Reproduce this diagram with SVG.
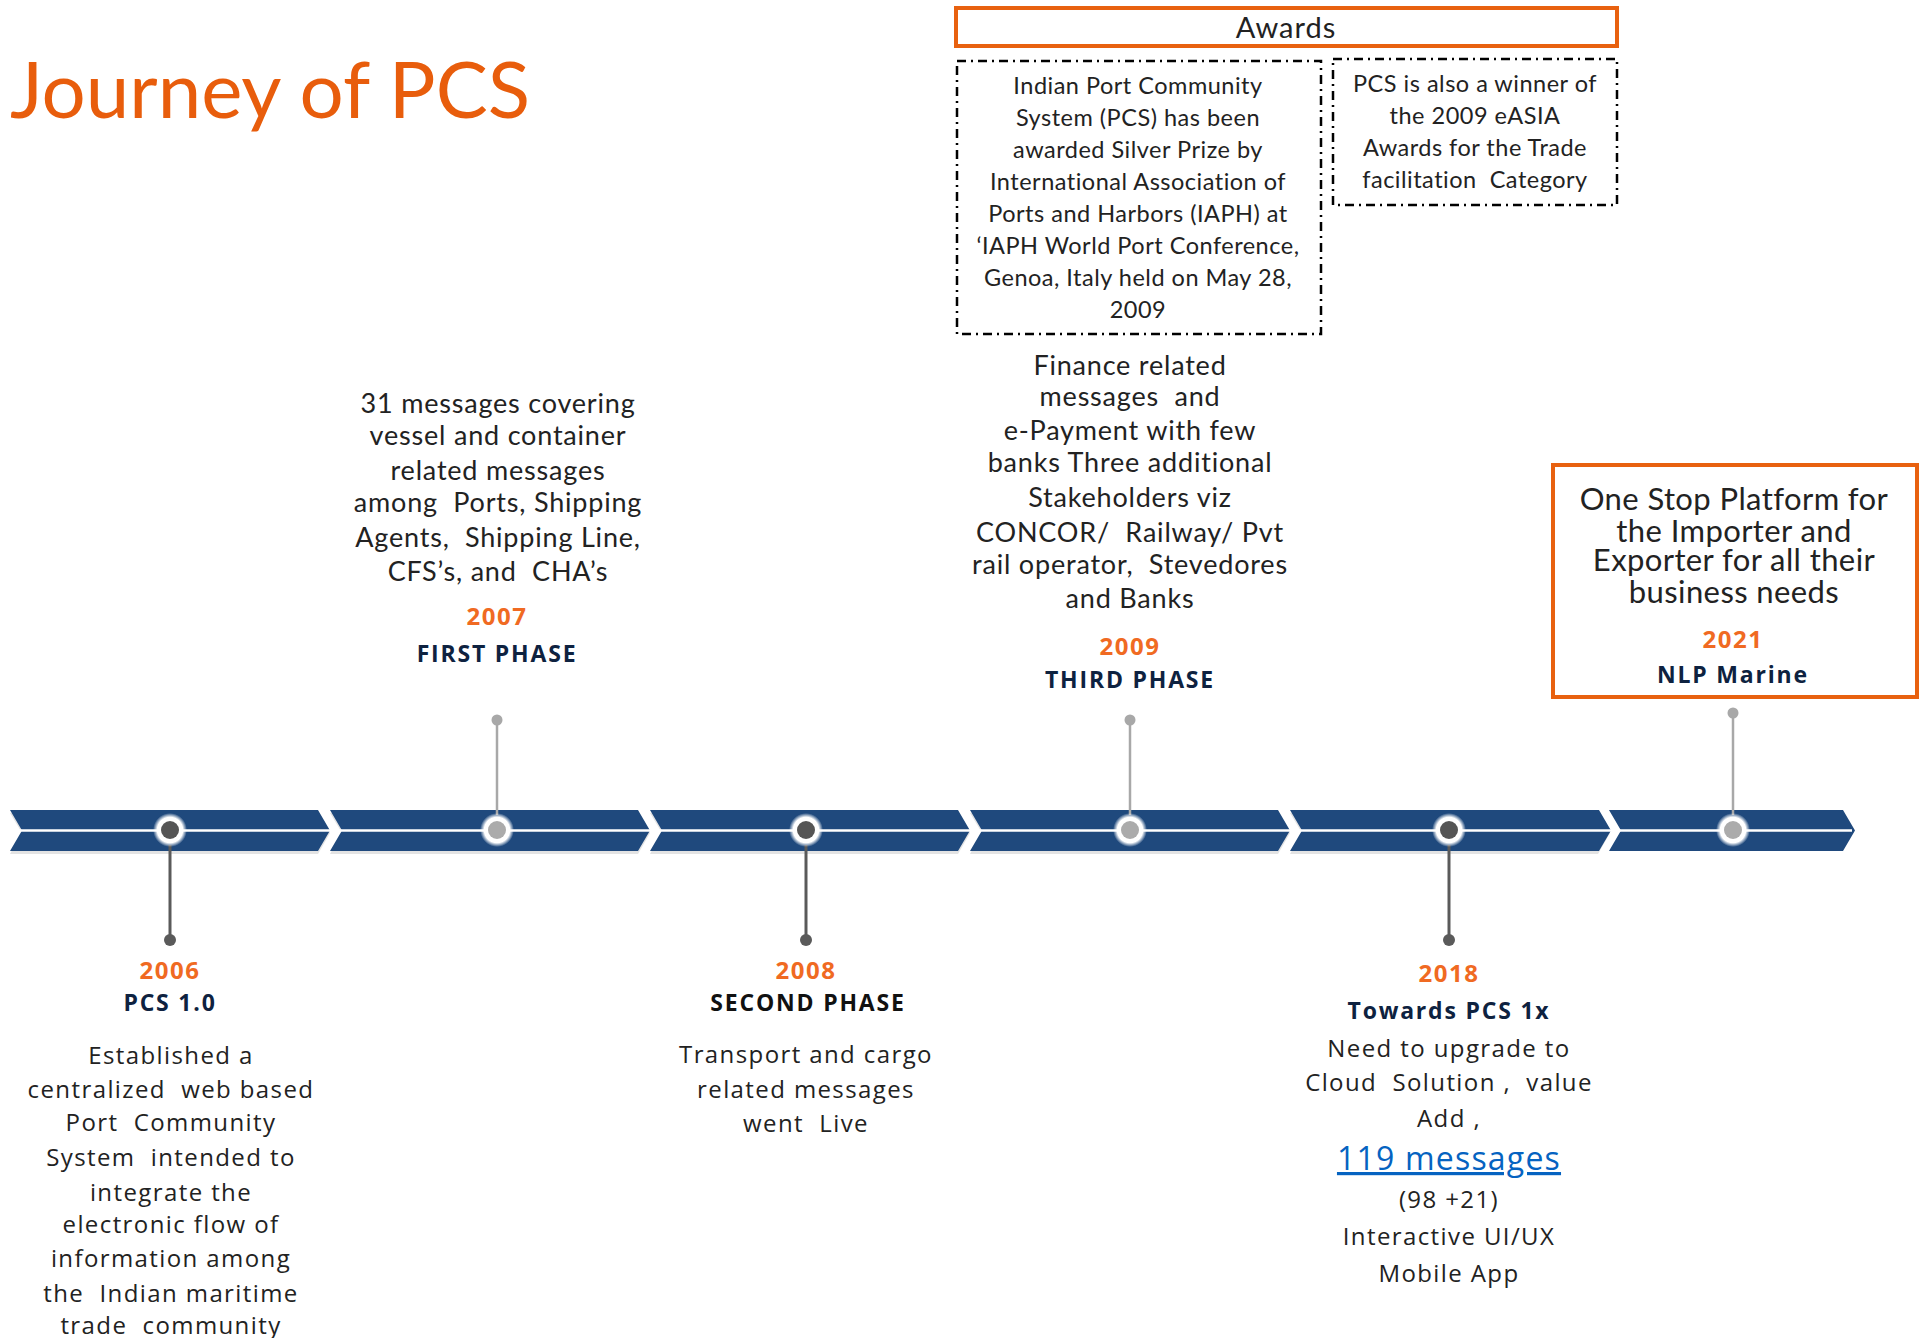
<svg xmlns="http://www.w3.org/2000/svg" width="1921" height="1338" viewBox="0 0 1921 1338">
<style>
text{white-space:pre}
.ttl{font-family:Lato,"Open Sans",sans-serif;font-size:78px;fill:#E85D0C}
.cal{font-family:Lato,"Open Sans",sans-serif;fill:#222;text-anchor:middle}
.aw{font-size:23.5px;letter-spacing:0.5px}
.up{font-size:27px;letter-spacing:0.8px}
.box{font-size:31px;letter-spacing:0.4px}
.sp{font-family:"Open Sans","Noto Sans",sans-serif;fill:#222;text-anchor:middle;font-size:24px;letter-spacing:1.4px}
.yr{font-family:"Open Sans","Noto Sans",sans-serif;font-weight:bold;font-size:24px;letter-spacing:1.5px;fill:#F06A22;text-anchor:middle}
.ph{font-family:"Open Sans","Noto Sans",sans-serif;font-weight:bold;font-size:23px;letter-spacing:1.8px;fill:#0E2240;text-anchor:middle}
.seg{fill:#1F497D}
.shd{fill:#E3E3E3}
.dash{fill:none;stroke:#000;stroke-width:2.5;stroke-dasharray:9 5 2 5}
.obox{fill:none;stroke:#E8610F;stroke-width:4}
.stemU{stroke:#A8A8A8;stroke-width:2.5}
.stemD{stroke:#5A5A5A;stroke-width:3}
</style>
<defs>
<radialGradient id="glow">
<stop offset="0" stop-color="#fff"/>
<stop offset="0.75" stop-color="#fff"/>
<stop offset="1" stop-color="#fff" stop-opacity="0"/>
</radialGradient>
</defs>

<text class="ttl" x="10" y="118">Journey of PCS</text>

<g id="awards">
<rect class="obox" x="956" y="8" width="661" height="38"/>
<text class="cal" x="1286" y="38" style="font-size:29px;letter-spacing:1px">Awards</text>
</g>
<g id="award-iaph">
<rect class="dash" x="957" y="61" width="364" height="273"/>
<text class="cal aw" x="1138" y="94">Indian Port Community</text>
<text class="cal aw" x="1138" y="126">System (PCS) has been</text>
<text class="cal aw" x="1138" y="158">awarded Silver Prize by</text>
<text class="cal aw" x="1138" y="190">International Association of</text>
<text class="cal aw" x="1138" y="222">Ports and Harbors (IAPH) at</text>
<text class="cal aw" x="1138" y="254">‘IAPH World Port Conference,</text>
<text class="cal aw" x="1138" y="286">Genoa, Italy held on May 28,</text>
<text class="cal aw" x="1138" y="318">2009</text>
</g>
<g id="award-easia">
<rect class="dash" x="1333" y="59" width="284" height="146"/>
<text class="cal aw" x="1475" y="92">PCS is also a winner of</text>
<text class="cal aw" x="1475" y="124">the 2009 eASIA</text>
<text class="cal aw" x="1475" y="156">Awards for the Trade</text>
<text class="cal aw" x="1475" y="188">facilitation  Category</text>
</g>

<g id="timeline">
<polygon class="shd" points="10,813 318,813 330,833 318,854 10,854 22,833"/>
<polygon class="shd" points="330,813 638,813 650,833 638,854 330,854 342,833"/>
<polygon class="shd" points="650,813 958,813 970,833 958,854 650,854 662,833"/>
<polygon class="shd" points="970,813 1278,813 1290,833 1278,854 970,854 982,833"/>
<polygon class="shd" points="1290,813 1598,813 1610,833 1598,854 1290,854 1302,833"/>
<polygon class="seg" points="10,810 318,810 330,830.5 318,851 10,851 22,830.5"/>
<polygon class="seg" points="330,810 638,810 650,830.5 638,851 330,851 342,830.5"/>
<polygon class="seg" points="650,810 958,810 970,830.5 958,851 650,851 662,830.5"/>
<polygon class="seg" points="970,810 1278,810 1290,830.5 1278,851 970,851 982,830.5"/>
<polygon class="seg" points="1290,810 1599,810 1611,830.5 1599,851 1290,851 1302,830.5"/>
<polygon class="seg" points="1609,810 1843,810 1855,830.5 1843,851 1609,851 1621,830.5"/>
<line x1="16" y1="830.5" x2="1852" y2="830.5" stroke="#fff" stroke-width="2.5"/>
</g>

<g id="connectors">
<line class="stemD" x1="170" y1="845" x2="170" y2="940"/>
<circle cx="170" cy="940" r="6" fill="#5A5A5A"/>
<line class="stemU" x1="497" y1="720" x2="497" y2="815"/>
<circle cx="497" cy="720" r="5.5" fill="#A8A8A8"/>
<line class="stemD" x1="806" y1="845" x2="806" y2="940"/>
<circle cx="806" cy="940" r="6" fill="#5A5A5A"/>
<line class="stemU" x1="1130" y1="720" x2="1130" y2="815"/>
<circle cx="1130" cy="720" r="5.5" fill="#A8A8A8"/>
<line class="stemD" x1="1449" y1="845" x2="1449" y2="940"/>
<circle cx="1449" cy="940" r="6" fill="#5A5A5A"/>
<line class="stemU" x1="1733" y1="713" x2="1733" y2="815"/>
<circle cx="1733" cy="713" r="5.5" fill="#A8A8A8"/>
</g>

<g id="node-2006">
<circle cx="170" cy="830" r="17" fill="url(#glow)"/>
<circle cx="170" cy="830" r="9" fill="#555"/>
<text class="yr" x="170" y="979">2006</text>
<text class="ph" x="170" y="1011">PCS 1.0</text>
<text class="sp" x="171" y="1064">Established a</text>
<text class="sp" x="171" y="1098">centralized  web based</text>
<text class="sp" x="171" y="1131">Port  Community</text>
<text class="sp" x="171" y="1166">System  intended to</text>
<text class="sp" x="171" y="1201">integrate the</text>
<text class="sp" x="171" y="1233">electronic flow of</text>
<text class="sp" x="171" y="1267">information among</text>
<text class="sp" x="171" y="1302">the  Indian maritime</text>
<text class="sp" x="171" y="1334">trade  community</text>
</g>

<g id="node-2007">
<circle cx="497" cy="830" r="17" fill="url(#glow)"/>
<circle cx="497" cy="830" r="9" fill="#ABABAB"/>
<text class="cal up" x="498" y="413">31 messages covering</text>
<text class="cal up" x="498" y="445">vessel and container</text>
<text class="cal up" x="498" y="480">related messages</text>
<text class="cal up" x="498" y="512">among  Ports, Shipping</text>
<text class="cal up" x="498" y="547">Agents,  Shipping Line,</text>
<text class="cal up" x="498" y="581">CFS’s, and  CHA’s</text>
<text class="yr" x="497" y="625">2007</text>
<text class="ph" x="497" y="662">FIRST PHASE</text>
</g>

<g id="node-2008">
<circle cx="806" cy="830" r="17" fill="url(#glow)"/>
<circle cx="806" cy="830" r="9" fill="#555"/>
<text class="yr" x="806" y="979">2008</text>
<text class="ph" x="808" y="1011" style="fill:#111">SECOND PHASE</text>
<text class="sp" x="806" y="1063">Transport and cargo</text>
<text class="sp" x="806" y="1098">related messages</text>
<text class="sp" x="806" y="1132">went  Live</text>
</g>

<g id="node-2009">
<circle cx="1130" cy="830" r="17" fill="url(#glow)"/>
<circle cx="1130" cy="830" r="9" fill="#ABABAB"/>
<text class="cal up" x="1130" y="375">Finance related</text>
<text class="cal up" x="1130" y="406">messages  and</text>
<text class="cal up" x="1130" y="440">e-Payment with few</text>
<text class="cal up" x="1130" y="472">banks Three additional</text>
<text class="cal up" x="1130" y="507">Stakeholders viz</text>
<text class="cal up" x="1130" y="542">CONCOR/  Railway/ Pvt</text>
<text class="cal up" x="1130" y="574">rail operator,  Stevedores</text>
<text class="cal up" x="1130" y="608">and Banks</text>
<text class="yr" x="1130" y="655">2009</text>
<text class="ph" x="1130" y="688">THIRD PHASE</text>
</g>

<g id="node-2018">
<circle cx="1449" cy="830" r="17" fill="url(#glow)"/>
<circle cx="1449" cy="830" r="9" fill="#555"/>
<text class="yr" x="1449" y="982">2018</text>
<text class="ph" x="1449" y="1019">Towards PCS 1x</text>
<text class="sp" x="1449" y="1057">Need to upgrade to</text>
<text class="sp" x="1449" y="1091">Cloud  Solution ,  value</text>
<text class="sp" x="1449" y="1127">Add ,</text>
<text class="sp" x="1449" y="1170" style="font-size:32px;letter-spacing:1.2px;fill:#0563C1;text-decoration:underline">119 messages</text>
<text class="sp" x="1449" y="1208">(98 +21)</text>
<text class="sp" x="1449" y="1245">Interactive UI/UX</text>
<text class="sp" x="1449" y="1282">Mobile App</text>
</g>

<g id="node-2021">
<circle cx="1733" cy="830" r="17" fill="url(#glow)"/>
<circle cx="1733" cy="830" r="9" fill="#ABABAB"/>
<rect class="obox" x="1553" y="465" width="364" height="232"/>
<text class="cal box" x="1734" y="510">One Stop Platform for</text>
<text class="cal box" x="1734" y="542">the Importer and</text>
<text class="cal box" x="1734" y="571">Exporter for all their</text>
<text class="cal box" x="1734" y="603">business needs</text>
<text class="yr" x="1733" y="648">2021</text>
<text class="ph" x="1733" y="683">NLP Marine</text>
</g>
</svg>
